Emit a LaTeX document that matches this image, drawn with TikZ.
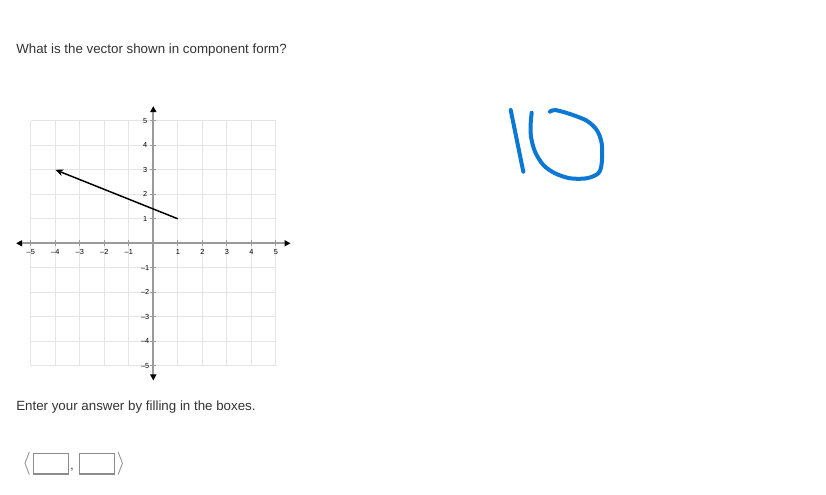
\documentclass[tikz,border=0pt]{standalone}
\usepackage{fontspec}
\setmainfont{Liberation Sans}
\usetikzlibrary{arrows.meta,positioning}
\definecolor{gridgray}{HTML}{E4E4E4}
\definecolor{axisgray}{HTML}{9A9A9A}
\definecolor{textgray}{HTML}{333333}
\definecolor{inkblue}{HTML}{0A78D4}
\definecolor{boxgray}{HTML}{8C8C8C}
\tikzset{
  gridline/.style={gridgray, line width=0.6pt},
  axisline/.style={axisgray, line width=1.3pt,
    {Triangle[black,length=4.5pt,width=4.5pt]}-{Triangle[black,length=4.5pt,width=4.5pt]}},
  tickline/.style={axisgray, line width=0.5pt},
  ticklabel/.style={font=\fontsize{5.5}{5.5}\selectfont, inner sep=0pt},
  vectorline/.style={black, line width=1.1pt, -{Stealth[length=6pt,width=5pt]}},
  ansbox/.style={draw=boxgray, line width=0.8pt, minimum width=26.25pt,
    minimum height=15.5pt, inner sep=0pt},
  prompt/.style={textgray, font=\fontsize{10}{12}\selectfont, anchor=base west, inner sep=0pt},
  scribble/.style={inkblue, line width=3pt, line cap=round, line join=round},
}

\begin{document}
\begin{tikzpicture}[x=0.75pt,y=-0.75pt]
\useasboundingbox[fill=white] (0,0) rectangle (826,495);

\node [prompt] (q) at (16,54) {What is the vector shown in component form?};

\begin{scope}[shift={(153.3,243.3)}, x=18.375pt, y=18.375pt]
\foreach \g in {-5,...,5} {
  \draw [gridline] (\g,-5) -- (\g,5);
  \draw [gridline] (-5,\g) -- (5,\g);
}
\node [] (0) at (0, 5.6) {};
\node [] (1) at (0, -5.6) {};
\node [] (2) at (-5.6, 0) {};
\node [] (3) at (5.6, 0) {};

\draw [axisline] (1.center) to (0.center);
\draw [axisline] (2.center) to (3.center);

\foreach \k in {-5,-4,-3,-2,-1,1,2,3,4,5} {
  \draw [tickline] (\k,-0.13) -- (\k,0.13);
  \draw [tickline] (-0.13,\k) -- (0.13,\k);
  \node [ticklabel] (x\k) at (\k,-0.37) {\ifnum\k<0 \textendash\the\numexpr-\k\relax\else\k\fi};
  \node [ticklabel] (y\k) at (-0.33,\k) {\ifnum\k<0 \textendash\the\numexpr-\k\relax\else\k\fi};
}

\node [] (4) at (1, 1) {};
\node [] (5) at (-4, 3) {};
\draw [vectorline] (4.center) to (5.center);
\end{scope}

\draw [scribble] plot [smooth] coordinates {(510.7,110) (523.3,171.7)};
\draw [scribble] plot [smooth] coordinates {(550,111.7) (555,110) (570,114)
  (586.7,120.7) (596.7,130) (601.7,143.3) (601.7,163.3) (598.3,173.3)
  (586.7,178.3) (570,178.3) (555,173.3) (543.3,165) (535,151.7)
  (531,136.7) (530.7,123.3) (531.7,112.7)};

\node [prompt] (enter) at (16,411) {Enter your answer by filling in the boxes.};

\node [ansbox] (box1) at (50.8,463.7) {};
\node [ansbox, right=7.5pt of box1] (box2) {};
\node [boxgray, inner sep=0pt, left=1pt of box1] (lb) {\fontsize{16}{16}\selectfont$\langle$};
\node [boxgray, inner sep=0pt, right=1pt of box2] (rb) {\fontsize{16}{16}\selectfont$\rangle$};
\node [textgray, inner sep=0pt, font=\fontsize{9}{9}\selectfont] (comma) at (72,470) {,};
\end{tikzpicture}
\end{document}
